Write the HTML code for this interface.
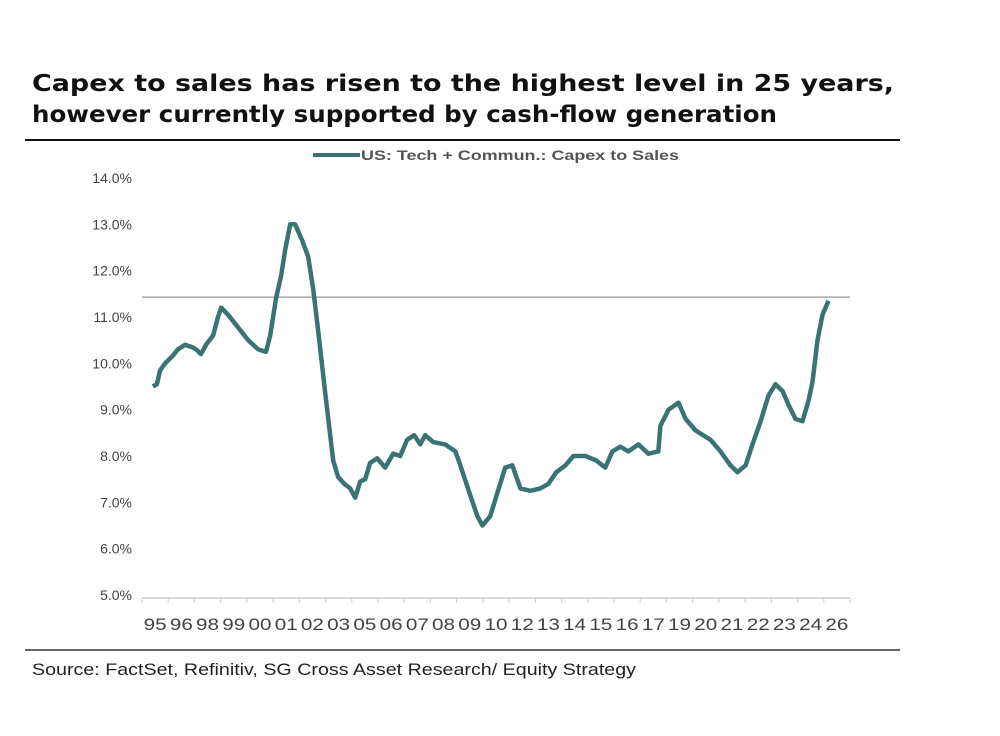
<!DOCTYPE html>
<html><head><meta charset="utf-8"><style>
body{margin:0;background:#fff;width:1000px;height:731px;overflow:hidden;font-family:"Liberation Sans",sans-serif}
</style></head><body>
<svg width="1000" height="731">
<text x="32" y="91" font-size="23" font-family="DejaVu Sans, sans-serif" font-weight="bold" fill="#111" textLength="862" lengthAdjust="spacingAndGlyphs">Capex to sales has risen to the highest level in 25 years,</text>
<text x="32" y="122" font-size="23" font-family="DejaVu Sans, sans-serif" font-weight="bold" fill="#111" textLength="745" lengthAdjust="spacingAndGlyphs">however currently supported by cash-flow generation</text>
<line x1="25" y1="140" x2="900" y2="140" stroke="#111" stroke-width="2"/>
<line x1="25" y1="650" x2="900" y2="650" stroke="#333" stroke-width="1.5"/>
<text x="32" y="675" font-size="17" fill="#222" textLength="604" lengthAdjust="spacingAndGlyphs">Source: FactSet, Refinitiv, SG Cross Asset Research/ Equity Strategy</text>
<g>
<line x1="313" y1="155" x2="360" y2="155" stroke="#3a7373" stroke-width="4"/>
<text x="361" y="160" font-size="14" font-weight="bold" fill="#555" textLength="318" lengthAdjust="spacingAndGlyphs">US: Tech + Commun.: Capex to Sales</text>
</g>
<g id="axes"></g>
<g id="plot"></g>
</svg>
<script>
const yTicks=[5,6,7,8,9,10,11,12,13,14];
const xLabels=["95","96","98","99","00","01","02","03","05","06","07","08","09","10","12","13","14","15","16","17","19","20","21","22","23","24","26"];
const refLevel=11.43;
const tPos=[0.42,0.57,0.69,0.88,1.15,1.37,1.64,1.91,2.06,2.25,2.44,2.71,2.90,3.02,3.28,3.63,4.05,4.43,4.73,4.89,5.11,5.31,5.46,5.65,5.84,6.11,6.34,6.53,6.72,6.98,7.29,7.48,7.71,7.94,8.13,8.32,8.51,8.70,8.97,9.27,9.58,9.85,10.11,10.38,10.61,10.80,11.11,11.56,11.95,12.14,12.52,12.79,12.98,13.28,13.55,13.85,14.12,14.43,14.81,15.19,15.50,15.80,16.15,16.45,16.91,17.33,17.67,17.94,18.24,18.55,18.93,19.31,19.69,19.77,20.08,20.46,20.73,21.11,21.68,22.06,22.44,22.71,23.02,23.28,23.59,23.89,24.16,24.43,24.66,24.92,25.19,25.42,25.57,25.76,25.95,26.18];
const values=[9.5,9.55,9.85,10.0,10.15,10.3,10.4,10.35,10.3,10.2,10.4,10.6,11.0,11.2,11.05,10.8,10.5,10.3,10.25,10.6,11.4,11.9,12.45,13.0,13.0,12.65,12.3,11.6,10.7,9.4,7.9,7.55,7.4,7.3,7.1,7.45,7.5,7.85,7.95,7.75,8.05,8.0,8.35,8.45,8.25,8.45,8.3,8.25,8.1,7.8,7.15,6.7,6.5,6.7,7.2,7.75,7.8,7.3,7.25,7.3,7.4,7.65,7.8,8.0,8.0,7.9,7.75,8.1,8.2,8.1,8.25,8.05,8.1,8.65,9.0,9.15,8.8,8.55,8.35,8.1,7.8,7.65,7.8,8.25,8.75,9.3,9.55,9.4,9.1,8.8,8.75,9.2,9.6,10.5,11.05,11.35];
const NS="http://www.w3.org/2000/svg";
const X0=142,X1=850,Y0=595,Y1=178;
const xs=t=>X0+(X1-X0)*t/xLabels.length;
const ys=v=>Y0-(Y0-Y1)*(v-5)/9;
const axes=document.getElementById('axes'),plot=document.getElementById('plot');
function mk(tag,at,parent){const e=document.createElementNS(NS,tag);for(const k in at)e.setAttribute(k,at[k]);parent.appendChild(e);return e;}
yTicks.forEach(v=>{const t=mk('text',{x:132,y:ys(v)+5,'font-size':14,'text-anchor':'end',fill:'#444'},axes);t.textContent=v.toFixed(1)+'%';

});
const ax=mk('line',{x1:X0,y1:Y0+3,x2:X1,y2:Y0+3,stroke:'#ccc','stroke-width':1.5},axes);


xLabels.forEach((l,i)=>{mk('line',{x1:xs(i),y1:Y0+3,x2:xs(i),y2:Y0+8,stroke:'#ccc'},axes);
const t=mk('text',{x:xs(i+0.5),y:630,'font-size':17,'text-anchor':'middle',fill:'#444',textLength:23,lengthAdjust:'spacingAndGlyphs'},axes);t.textContent=l;

});
mk('line',{x1:xs(xLabels.length),y1:Y0+3,x2:xs(xLabels.length),y2:Y0+8,stroke:'#ccc'},axes);
const rl=mk('line',{x1:X0,y1:ys(refLevel),x2:X1,y2:ys(refLevel),stroke:'#aaa','stroke-width':1.5},plot);


const d=values.map((v,i)=>(i?'L':'M')+xs(tPos[i]).toFixed(1)+','+ys(v).toFixed(1)).join('');
const p=mk('path',{d:d,fill:'none',stroke:'#3a7373','stroke-width':4.5,'stroke-linejoin':'round'},plot);


</script>
</body></html>
